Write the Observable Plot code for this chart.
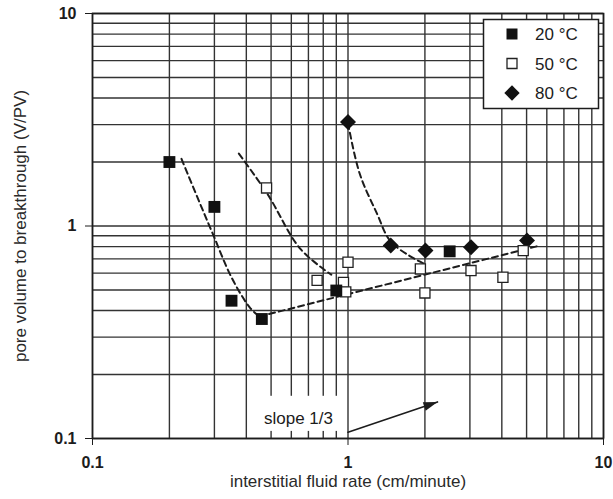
<!DOCTYPE html>
<html>
<head>
<meta charset="utf-8">
<script src="https://cdn.jsdelivr.net/npm/d3@7"></script>
<script src="https://cdn.jsdelivr.net/npm/@observablehq/plot@0.6"></script>
<style>
  body { margin: 0; background: #fff; }
  #chart svg { display: block; }
</style>
</head>
<body>
<div id="chart"></div>
<script>
// Breakthrough measurements: interstitial fluid rate (cm/min) vs pore volumes to breakthrough
const series = ["20 °C", "50 °C", "80 °C"];

const rate20 = [0.20, 0.30, 0.35, 0.46, 0.90, 2.5];
const pv20   = [2.0, 1.23, 0.445, 0.365, 0.497, 0.76];

const rate50 = [0.48, 0.757, 0.96, 0.98, 1.0, 1.92, 2.0, 3.03, 4.04, 4.85];
const pv50   = [1.51, 0.555, 0.543, 0.49, 0.675, 0.628, 0.484, 0.617, 0.574, 0.766];

const rate80 = [1.0, 1.47, 2.01, 3.03, 5.02];
const pv80   = [3.09, 0.809, 0.766, 0.794, 0.855];

// Hand-drawn trend curves (dashed)
const curve20X = [0.223, 0.257, 0.296, 0.35, 0.413, 0.45];
const curve20Y = [2.07, 1.37, 0.916, 0.573, 0.413, 0.375];
const curve50X = [0.374, 0.483, 0.651, 0.86];
const curve50Y = [2.19, 1.42, 0.78, 0.59];
const curve80X = [1.0, 1.11, 1.30, 1.46, 1.74, 1.99];
const curve80Y = [3.05, 1.77, 1.14, 0.853, 0.724, 0.664];
const slopeLineX = [0.45, 5.66];
const slopeLineY = [0.375, 0.81];

// "slope 1/3" annotation: label, its white backing box, and arrow
const slopeLabel = "slope 1/3";
const slopeLabelAt = [0.64, 0.1236];
const slopeBoxX = [0.44, 0.95];
const slopeBoxY = [0.108, 0.158];
const arrowX = [1.0, 2.24];
const arrowY = [0.107, 0.1486];

// Axes and log grid
const majorTicks = [0.1, 1, 10];
const majorTickLabels = ["0.1", "1", "10"];
const gridValues = [0.1, 0.2, 0.3, 0.4, 0.5, 0.6, 0.7, 0.8, 0.9,
                    1, 2, 3, 4, 5, 6, 7, 8, 9, 10];
const xTitle = "interstitial fluid rate (cm/minute)";
const yTitle = "pore volume to breakthrough (V/PV)";

const zip = (xs, ys) => xs.map((x, i) => ({x, y: ys[i]}));
const pts20 = zip(rate20, pv20);
const pts50 = zip(rate50, pv50);
const pts80 = zip(rate80, pv80);

const W = 613, H = 499;
const mT = 13, mR = 10, mB = 61, mL = 92;

// Filled arrowhead with its tip at the origin, pointing up
const arrowHead = {
  draw(context) {
    context.moveTo(0, 0);
    context.lineTo(4.5, 14);
    context.lineTo(-4.5, 14);
    context.closePath();
  }
};
const decX = (W - mL - mR) / 2, decY = (H - mT - mB) / 2;
const arrowAngle = Math.atan2(-decY * Math.log10(arrowY[1] / arrowY[0]),
                               decX * Math.log10(arrowX[1] / arrowX[0])) * 180 / Math.PI;

const ink = "#1c1c1c";
const gridInk = "#333";
const font = "'Liberation Sans', Arial, Helvetica, sans-serif";
const fmt = d => majorTickLabels[majorTicks.indexOf(d)];
const dashed = {stroke: ink, strokeWidth: 2, strokeDasharray: "6,4"};

const chart = Plot.plot({
  width: W, height: H,
  marginTop: mT, marginRight: mR, marginBottom: mB, marginLeft: mL,
  style: {fontFamily: font, fontSize: "16px", color: ink, background: "#fff"},
  x: {type: "log", domain: [0.1, 10]},
  y: {type: "log", domain: [0.1, 10]},
  marks: [
    Plot.ruleX(gridValues, {stroke: gridInk, strokeWidth: 1.4}),
    Plot.ruleY(gridValues, {stroke: gridInk, strokeWidth: 1.4}),
    Plot.rect([0], {x1: () => slopeBoxX[0], x2: () => slopeBoxX[1],
                    y1: () => slopeBoxY[0], y2: () => slopeBoxY[1], fill: "#fff"}),
    Plot.text([slopeLabel], {x: () => slopeLabelAt[0], y: () => slopeLabelAt[1], text: d => d,
                             fontSize: 17, fill: ink}),
    Plot.line(zip(arrowX, arrowY), {x: "x", y: "y", stroke: ink, strokeWidth: 1.6}),
    Plot.dot([arrowX.length - 1], {x: i => arrowX[i], y: i => arrowY[i], symbol: arrowHead,
                                   fill: ink, stroke: "none", rotate: arrowAngle + 90}),
    Plot.line(zip(curve20X, curve20Y), {x: "x", y: "y", curve: "catmull-rom", ...dashed}),
    Plot.line(zip(slopeLineX, slopeLineY), {x: "x", y: "y", ...dashed}),
    Plot.line(zip(curve50X, curve50Y), {x: "x", y: "y", curve: "catmull-rom", ...dashed}),
    Plot.line(zip(curve80X, curve80Y), {x: "x", y: "y", curve: "catmull-rom", ...dashed}),
    Plot.dot(pts80, {x: "x", y: "y", symbol: d3.symbolDiamond2, r: 7.2, fill: "#111", stroke: "none"}),
    Plot.dot(pts50, {x: "x", y: "y", symbol: "square", r: 5.7, fill: "#fff", stroke: "#222", strokeWidth: 1.3}),
    Plot.dot(pts20, {x: "x", y: "y", symbol: "square", r: 6.7, fill: "#111", stroke: "none"}),
    Plot.frame({stroke: ink, strokeWidth: 1.6}),
    Plot.axisX({ticks: majorTicks, tickFormat: fmt, tickSize: 7, tickPadding: 11,
                fontSize: 16, fontWeight: "bold", label: null, stroke: ink, fill: ink}),
    Plot.axisY({ticks: majorTicks, tickFormat: fmt, tickSize: 7, tickPadding: 9,
                fontSize: 16, fontWeight: "bold", label: null, stroke: ink, fill: ink}),
    Plot.text([xTitle], {frameAnchor: "bottom", dy: 48, text: d => d, fontSize: 17, fill: "#2a2a2a"}),
    Plot.text([yTitle], {frameAnchor: "left", textAnchor: "middle", dx: -72, rotate: -90,
                         text: d => d, fontSize: 17, fill: "#2a2a2a"})
  ]
});

// Legend box in the upper-right corner of the frame
const svg = d3.select(chart);
const legend = svg.append("g").attr("transform", `translate(${W - mR - 120},${mT + 6})`);
legend.append("rect")
  .attr("x", 0.5).attr("y", 0.5).attr("width", 115).attr("height", 89)
  .attr("fill", "#fff").attr("stroke", ink).attr("stroke-width", 1.5);
const legendSymbols = [
  {type: d3.symbolSquare, size: 121, fill: "#111", stroke: "none"},
  {type: d3.symbolSquare, size: 100, fill: "#fff", stroke: "#222"},
  {type: d3.symbolDiamond2, size: 150, fill: "#111", stroke: "none"}
];
series.forEach((name, i) => {
  const row = legend.append("g").attr("transform", `translate(29,${15 + i * 29.5})`);
  const s = legendSymbols[i];
  row.append("path").attr("d", d3.symbol(s.type, s.size)())
    .attr("fill", s.fill).attr("stroke", s.stroke).attr("stroke-width", 1.3);
  row.append("text").attr("x", 23).attr("dy", "0.36em").attr("text-anchor", "start")
    .attr("font-size", 17).attr("font-family", font).attr("fill", ink).text(name);
});

document.getElementById("chart").appendChild(chart);
</script>
</body>
</html>
